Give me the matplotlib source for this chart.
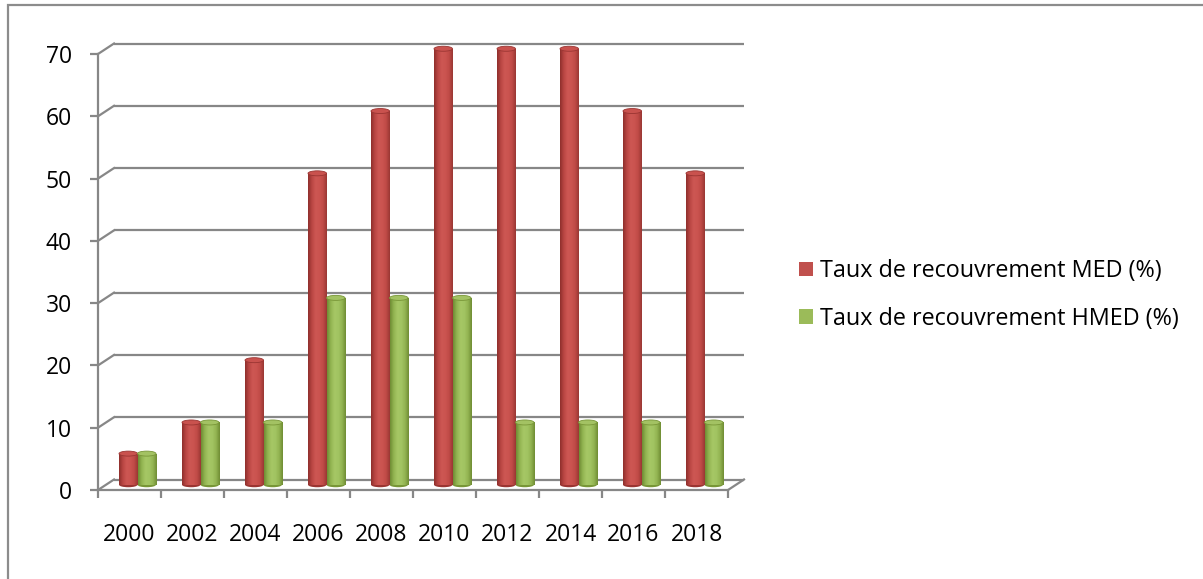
import numpy as np
import matplotlib
matplotlib.use("Agg")
import matplotlib.pyplot as plt
from matplotlib.patches import Ellipse, Rectangle, Patch
from matplotlib.colors import LinearSegmentedColormap

years = ['2000', '2002', '2004', '2006', '2008', '2010', '2012', '2014', '2016', '2018']
med = [5, 10, 20, 50, 60, 70, 70, 70, 60, 50]
hmed = [5, 10, 10, 30, 30, 30, 10, 10, 10, 10]
yticks = [0, 10, 20, 30, 40, 50, 60, 70]
labels = ['Taux de recouvrement MED (%)', 'Taux de recouvrement HMED (%)']

plt.rcParams['font.family'] = ['Open Sans', 'DejaVu Sans']

W, H = 1203, 579
fig = plt.figure(figsize=(W / 100, H / 100), dpi=100)
x0px, x1px, y0px, y1px = 98, 728, 490, 54
ax = fig.add_axes([x0px / W, (H - y0px) / H, (x1px - x0px) / W, (y0px - y1px) / H])
n = len(years)
ax.set_xlim(-0.5, n - 0.5)
ax.set_ylim(0, 70)

px_x = n / (x1px - x0px)
px_y = 70 / (y0px - y1px)
dx = 16 * px_x
dy = 10.5 * px_y

gcol = '#878787'
lw = 1.6
for v in yticks:
    ax.plot([-0.5 + dx, n - 0.5 + dx], [v + dy, v + dy], color=gcol, lw=lw, clip_on=False, zorder=1, solid_capstyle='butt')
    ax.plot([-0.5, -0.5 + dx], [v, v + dy], color=gcol, lw=lw, clip_on=False, zorder=1)
ax.plot([n - 0.5, n - 0.5 + dx], [0, dy], color=gcol, lw=lw, clip_on=False, zorder=1)

for s in ['top', 'right']:
    ax.spines[s].set_visible(False)
for s in ['left', 'bottom']:
    ax.spines[s].set_color(gcol)
    ax.spines[s].set_linewidth(lw)

fs = 16.5
ax.set_yticks(yticks)
ax.tick_params(axis='y', length=5.8, width=lw, color=gcol, pad=13, labelsize=fs, labelcolor='black')
ax.set_xticks(np.arange(n))
ax.set_xticklabels(years)
ax.set_xticks(np.arange(-0.5, n, 1), minor=True)
ax.tick_params(axis='x', which='major', length=0, pad=24, labelsize=fs, labelcolor='black')
ax.tick_params(axis='x', which='minor', length=5.5, width=lw, color=gcol)

bw = 18.5 / 63
xs = np.arange(n) + dx / 2
base = dy / 2

red_cmap = LinearSegmentedColormap.from_list('r', ['#8f2f2c', '#b94643', '#cd5753', '#cb5450', '#c04b47', '#9a3734'])
grn_cmap = LinearSegmentedColormap.from_list('g', ['#6f8c33', '#93b552', '#a6c765', '#a2c462', '#93b452', '#708d34'])
grad = np.linspace(0, 1, 64).reshape(1, -1)
cap_h = 5 * px_y

def draw_series(centers, vals, cmap, capc, capedge):
    bars = ax.bar(centers, vals, width=bw, bottom=base, color=capc, clip_on=False, zorder=3, linewidth=0)
    for b, c, v in zip(bars, centers, vals):
        bx, by = b.get_x(), b.get_y()
        ax.add_patch(Ellipse((c, by), bw, cap_h, facecolor=capedge, edgecolor='none', zorder=2.9, clip_on=False))
        im = ax.imshow(grad, cmap=cmap, extent=(bx, bx + bw, by, by + v), aspect='auto', zorder=3.1, interpolation='bilinear')
        im.set_clip_path(b)
        ax.add_patch(Ellipse((c, by + v), bw, cap_h, facecolor=capc, edgecolor=capedge, lw=0.6, zorder=3.2, clip_on=False))

draw_series(xs - bw / 2, med, red_cmap, '#c9524e', '#9a3532')
draw_series(xs + bw / 2, hmed, grn_cmap, '#a3c263', '#789637')
ax.set_xlim(-0.5, n - 0.5)
ax.set_ylim(0, 70)

handles = [Patch(facecolor='#c0504d'), Patch(facecolor='#9bbb59')]
fig.legend(handles, labels, loc='center left', bbox_to_anchor=(778 / W, 1 - 295 / H), frameon=False,
           fontsize=16.8, handlelength=0.58, handleheight=0.58, handletextpad=0.3, labelspacing=1.0)

fig.add_artist(Rectangle((8 / W, -0.1), 1.2, 1 - 5 / H + 0.1, transform=fig.transFigure, fill=False,
                         edgecolor='#8c8c8c', lw=1.6))

fig.savefig('out.png', dpi=100)
